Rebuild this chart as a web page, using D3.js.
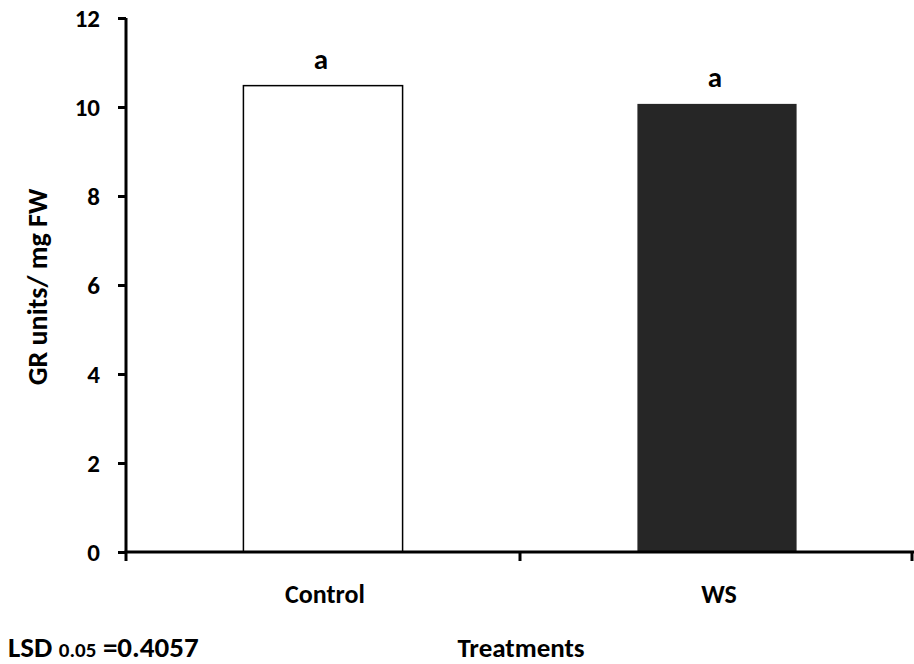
<!DOCTYPE html>
<html>
<head>
<meta charset="utf-8">
<script src="https://cdn.jsdelivr.net/npm/d3@7"></script>
<style>
  body { margin: 0; background: #fff; }
  text { font-family: Carlito, "Open Sans", sans-serif; font-weight: bold; fill: #000; }
</style>
</head>
<body>
<div class="chart"></div>
<script>
// data
const treatments = ["Control", "WS"]
const grValues = [10.48, 10.07]
const letters = ["a", "a"]
const barFills = ["#ffffff", "#262626"]
const yTicks = [0, 2, 4, 6, 8, 10, 12]

const width = 914, height = 664
const plotLeft = 126, plotRight = 914, plotTop = 18, plotBottom = 552

const svg = d3.select(".chart").append("svg")
    .attr("width", width)
    .attr("height", height)

const x = d3.scaleBand().domain(treatments).range([plotLeft, plotRight]).padding(0)
const y = d3.scaleLinear().domain([0, 12]).range([plotBottom, plotTop])
const barW = x.bandwidth() * 0.404

// bars
svg.append("g").selectAll("rect")
    .data(treatments)
    .enter()
    .append("rect")
    .attr("x", d => x(d) + x.bandwidth() / 2 - barW / 2)
    .attr("width", barW)
    .attr("y", (d, i) => y(grValues[i]))
    .attr("height", (d, i) => plotBottom - y(grValues[i]))
    .attr("fill", (d, i) => barFills[i])
    .attr("stroke", (d, i) => i == 0 ? "#000" : "none")
    .attr("stroke-width", 1.5)

// significance letters
svg.append("g").selectAll("text")
    .data(treatments)
    .enter()
    .append("text")
    .attr("x", d => x(d) + x.bandwidth() / 2 - 2)
    .attr("y", (d, i) => y(grValues[i]) - 17)
    .attr("text-anchor", "middle")
    .style("font-size", "29px")
    .text((d, i) => letters[i])

// y axis
const yAxis = svg.append("g").attr("transform", `translate(${plotLeft},0)`)
    .call(d3.axisLeft(y).tickValues(yTicks).tickSize(8).tickPadding(18).tickFormat(d3.format("d")))
yAxis.select(".domain").attr("stroke", "#000").attr("stroke-width", 3).attr("d", `M0,${plotTop}V${plotBottom + 1}`)
yAxis.selectAll(".tick line").attr("stroke", "#000").attr("stroke-width", 3)
yAxis.selectAll(".tick text")
    .style("font-size", "25px")
    .style("font-family", "Carlito, 'Open Sans', sans-serif")
    .style("font-weight", "bold")
    .attr("dy", "0.33em")

// x axis: ticks at category boundaries, labels under bar centres
const xAxis = svg.append("g").attr("transform", `translate(0,${plotBottom})`)
xAxis.append("line")
    .attr("x1", plotLeft - 1.5).attr("x2", plotRight)
    .attr("stroke", "#000").attr("stroke-width", 3)
xAxis.selectAll(".xtick")
    .data([plotLeft, x("WS"), plotRight - 2])
    .enter()
    .append("line")
    .attr("x1", d => d).attr("x2", d => d)
    .attr("y1", 0).attr("y2", 9)
    .attr("stroke", "#000").attr("stroke-width", 3)
xAxis.selectAll(".xlabel")
    .data(treatments)
    .enter()
    .append("text")
    .attr("x", d => x(d) + x.bandwidth() / 2 + 2)
    .attr("y", 51)
    .attr("text-anchor", "middle")
    .style("font-size", "26px")
    .text(d => d)

// axis titles
svg.append("text")
    .attr("transform", "translate(47,287) rotate(-90)")
    .attr("text-anchor", "middle")
    .style("font-size", "28px")
    .text("GR units/ mg FW")

svg.append("text")
    .attr("x", 521)
    .attr("y", 657)
    .attr("text-anchor", "middle")
    .style("font-size", "27px")
    .text("Treatments")

const lsd = svg.append("text")
    .attr("x", 8)
    .attr("y", 657)
    .style("font-size", "29px")
lsd.append("tspan").text("LSD ")
lsd.append("tspan").style("font-size", "21px").text("0.05")
lsd.append("tspan").text(" =0.4057")
</script>
</body>
</html>
